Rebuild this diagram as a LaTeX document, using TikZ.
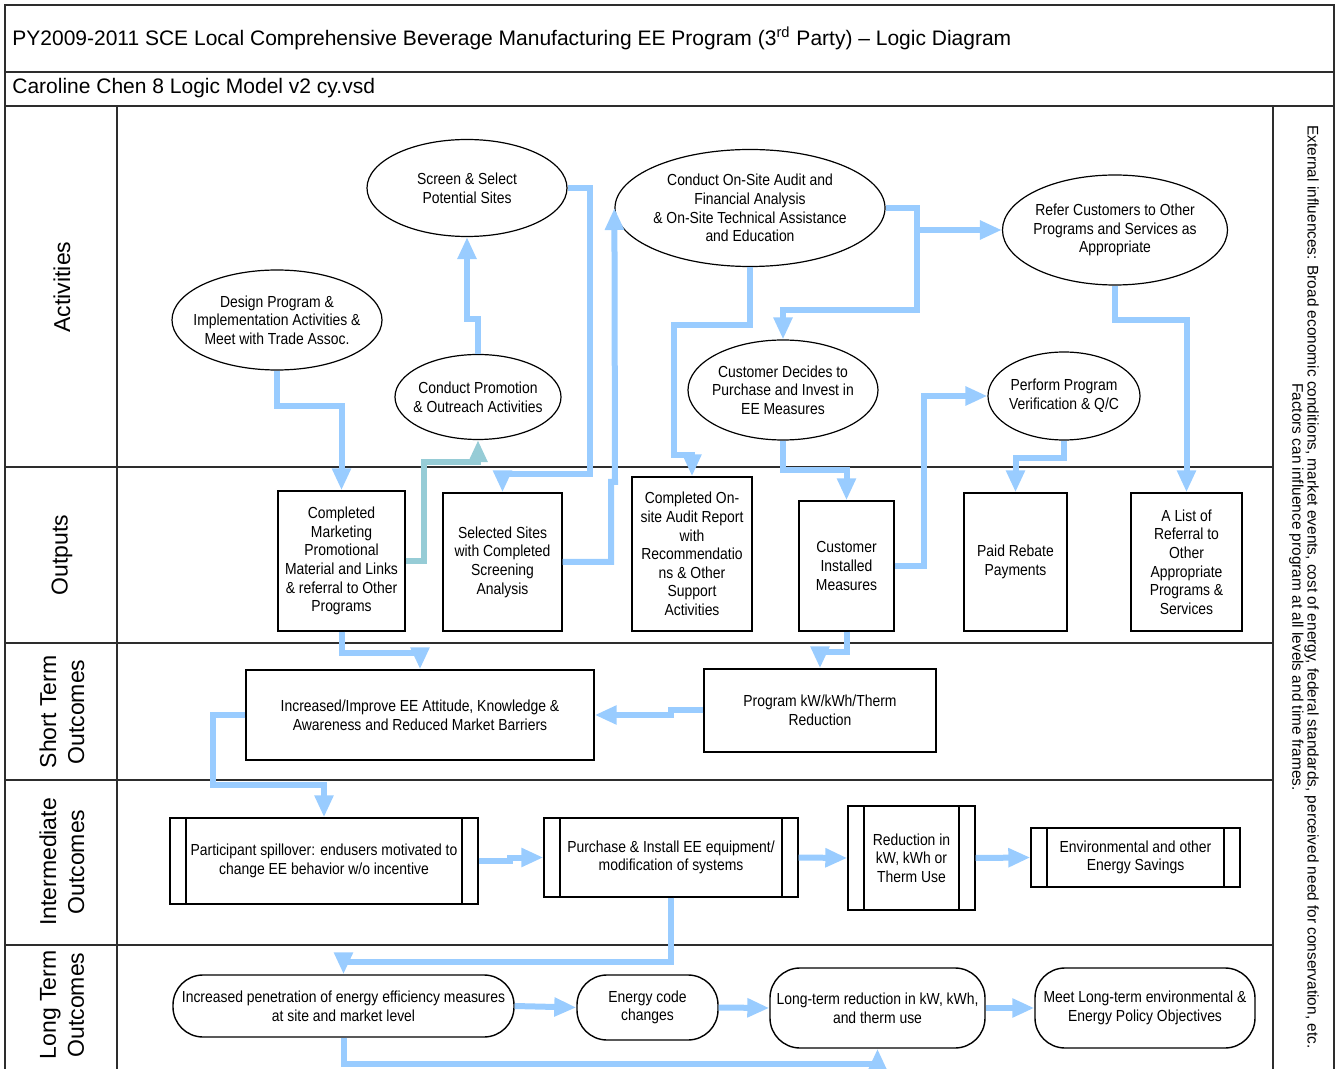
\documentclass[tikz,border=0pt]{standalone}
\usepackage{fontspec}
\setmainfont{Liberation Sans}
\newfontfamily\narrowsans[FakeStretch=0.87]{Liberation Sans}
\usetikzlibrary{shapes.geometric,arrows.meta}

\definecolor{flowblue}{RGB}{153,204,255}
\definecolor{flowteal}{RGB}{150,204,214}
\definecolor{laneline}{RGB}{45,45,45}

\begin{document}
\begin{tikzpicture}[x=0.5pt,y=-0.5pt,
  txt/.style={font=\narrowsans\fontsize{8}{9.3}\selectfont, align=center},
  actv/.style={ellipse, draw, line width=0.6pt, txt, inner xsep=-12pt, inner ysep=0pt},
  outbox/.style={rectangle, draw, line width=0.7pt, txt, inner sep=1pt},
  subproc/.style={outbox, path picture={
      \draw[line width=0.7pt] ([xshift=8pt]path picture bounding box.north west) -- ([xshift=8pt]path picture bounding box.south west);
      \draw[line width=0.7pt] ([xshift=-8pt]path picture bounding box.north east) -- ([xshift=-8pt]path picture bounding box.south east);}},
  lterm/.style={rectangle, rounded corners=15pt, draw, line width=0.7pt, txt, inner sep=1pt},
  flow/.style={draw=flowblue, line width=3pt, -{Triangle[width=9pt,length=11pt]}},
  tealflow/.style={draw=flowteal, line width=3pt, -{Triangle[width=9pt,length=11pt]}},
  lane/.style={rotate=90, font=\fontsize{11.5}{14}\selectfont, align=center},
  frame/.style={draw=laneline, line width=1pt},
  heading/.style={anchor=west, font=\fontsize{10.5}{12}\selectfont, inner sep=0pt},
  extnote/.style={rotate=-90, font=\fontsize{7.7}{7.6}\selectfont, align=center, inner sep=0pt}
]
\useasboundingbox (0,0) rectangle (1340,1069);

% frame, header rows and swim lanes
\draw[frame] (5,1069) -- (5,5) -- (1334,5) -- (1334,1069);
\draw[frame] (5,72) -- (1334,72);
\draw[frame] (5,106) -- (1334,106);
\draw[frame] (117,106) -- (117,1069);
\draw[frame] (1273,106) -- (1273,1069);
\foreach \yy in {467,643,780,945} \draw[frame] (5,\yy) -- (1273,\yy);

\node[heading] (title) at (12,38) {PY2009-2011 SCE Local Comprehensive Beverage Manufacturing EE Program (3\textsuperscript{rd} Party) \textendash{} Logic Diagram};
\node[heading] (subtitle) at (12,88) {Caroline Chen 8 Logic Model v2 cy.vsd};

\node[lane] (l1) at (62,287) {Activities};
\node[lane] (l2) at (62,555) {Outputs};
\node[lane] (l3) at (62,712) {Short Term\\Outcomes};
\node[lane] (l4) at (62,862) {Intermediate\\Outcomes};
\node[lane] (l5) at (62,1005) {Long Term\\Outcomes};

\node[extnote] (ext) at (1304,587) {External influences: Broad economic conditions, market events, cost of energy, federal standards, perceived need for conservation, etc.\\Factors can influence program at all levels and time frames.};

% activities
\node[actv, minimum width=100pt, minimum height=48.5pt] (e1) at (467,188) {Screen \& Select\\Potential Sites};
\node[actv, minimum width=135pt, minimum height=58.5pt] (e2) at (750,208) {Conduct On-Site Audit and\\Financial Analysis\\\& On-Site Technical Assistance\\and Education};
\node[actv, minimum width=112.5pt, minimum height=55pt] (e3) at (1115,230) {Refer Customers to Other\\Programs and Services as\\Appropriate};
\node[actv, minimum width=105pt, minimum height=50pt] (e4) at (277,320) {Design Program \&\\Implementation Activities \&\\Meet with Trade Assoc.};
\node[actv, minimum width=83pt, minimum height=42.5pt] (e5) at (478,397) {Conduct Promotion\\\& Outreach Activities};
\node[actv, minimum width=95pt, minimum height=50pt] (e6) at (783,390) {Customer Decides to\\Purchase and Invest in\\EE Measures};
\node[actv, minimum width=76pt, minimum height=44pt] (e7) at (1064,396) {Perform Program\\Verification \& Q/C};

% outputs
\node[outbox, minimum width=63.5pt, minimum height=70pt] (bA) at (341.5,561) {Completed\\Marketing\\Promotional\\Material and Links\\\& referral to Other\\Programs};
\node[outbox, minimum width=59.5pt, minimum height=69pt] (bB) at (502.5,562) {Selected Sites\\with Completed\\Screening\\Analysis};
\node[outbox, minimum width=60pt, minimum height=77pt] (bC) at (692,554) {Completed On-\\site Audit Report\\with\\Recommendatio\\ns \& Other\\Support\\Activities};
\node[outbox, minimum width=47.5pt, minimum height=65pt] (bD) at (846.5,566) {Customer\\Installed\\Measures};
\node[outbox, minimum width=51.5pt, minimum height=69pt] (bE) at (1015.5,562) {Paid Rebate\\Payments};
\node[outbox, minimum width=55.5pt, minimum height=69pt] (bF) at (1186.5,562) {A List of\\Referral to\\Other\\Appropriate\\Programs \&\\Services};

% short term outcomes
\node[outbox, minimum width=174pt, minimum height=45pt] (G) at (420,715) {Increased/Improve EE Attitude, Knowledge \&\\Awareness and Reduced Market Barriers};
\node[outbox, minimum width=116pt, minimum height=41.5pt] (H) at (820,710.5) {Program kW/kWh/Therm\\Reduction};

% intermediate outcomes
\node[subproc, minimum width=154pt, minimum height=43pt] (I) at (324,861) {Participant spillover: endusers motivated to\\change EE behavior w/o incentive};
\node[subproc, minimum width=127pt, minimum height=39.5pt] (J) at (671,857.5) {Purchase \& Install EE equipment/\\modification of systems};
\node[subproc, minimum width=63.5pt, minimum height=52pt] (K) at (911.5,858) {Reduction in\\kW, kWh or\\Therm Use};
\node[subproc, minimum width=104.5pt, minimum height=29.5pt] (L) at (1135.5,857.5) {Environmental and other\\Energy Savings};

% long term outcomes
\node[lterm, minimum width=170.5pt, minimum height=31pt] (M) at (343.5,1006) {Increased penetration of energy efficiency measures\\at site and market level};
\node[lterm, minimum width=70.5pt, minimum height=32.5pt] (N) at (647.5,1007.5) {Energy code\\changes};
\node[lterm, minimum width=107.5pt, minimum height=40pt] (O) at (877.5,1008) {Long-term reduction in kW, kWh,\\and therm use};
\node[lterm, minimum width=110pt, minimum height=40pt] (P) at (1145,1008) {Meet Long-term environmental \&\\Energy Policy Objectives};

% connectors
\draw[flow] (e4.south) -- ++(0,35) -| (bA.north);
\draw[flow] (e5.north) -- ++(0,-35) -| (e1.south);
\draw[tealflow] (bA.east) -- ++(18,0) -- ++(0,-99) -| (e5.south);
\draw[flow] (e1.east) -- (590,188) -- (590,474) -| (bB.north);
\draw[flow] (bB.east) -- (611,562) -- (611,482) -- (615,482) -- (e2.west);
\draw[flow] (e2.south) -- (750,325) -- (674,325) -- (674,455) -| (bC.north);
\draw[flow] (e2.east) -- (917,208) -- (917,310) -| (e6.north);
\coordinate (split) at (917,230);
\draw[flow] (split) -- (e3.west);
\draw[flow] (e3.south) -- (1115,320) -| (bF.north);
\draw[flow] (e6.south) -- (783,470) -| (bD.north);
\draw[flow] (bD.east) -- (924,566) |- (e7.west);
\draw[flow] (e7.south) -- (1064,458) -| (bE.north);
\draw[flow] (bA.south) -- ++(0,21) -| (G.north);
\draw[flow] (bD.south) -- ++(0,20) -| (H.north);
\draw[flow] (H.west) -- ++(-32,0) |- (G.east);
\draw[flow] (G.west) -- (213,715) -- (213,785) -| (I.north);
\draw[flow] (I.east) -- (510,861) |- (J.west);
\draw[flow] (J.east) -- (K.west);
\draw[flow] (K.east) -- (L.west);
\draw[flow] (J.south) -- (671,962) -| (M.north);
\draw[flow] (M.east) -- (N.west);
\draw[flow] (N.east) -- (O.west);
\draw[flow] (O.east) -- (P.west);
\draw[flow] (M.south) -- (343.5,1064) -| (O.south);
\end{tikzpicture}
\end{document}
